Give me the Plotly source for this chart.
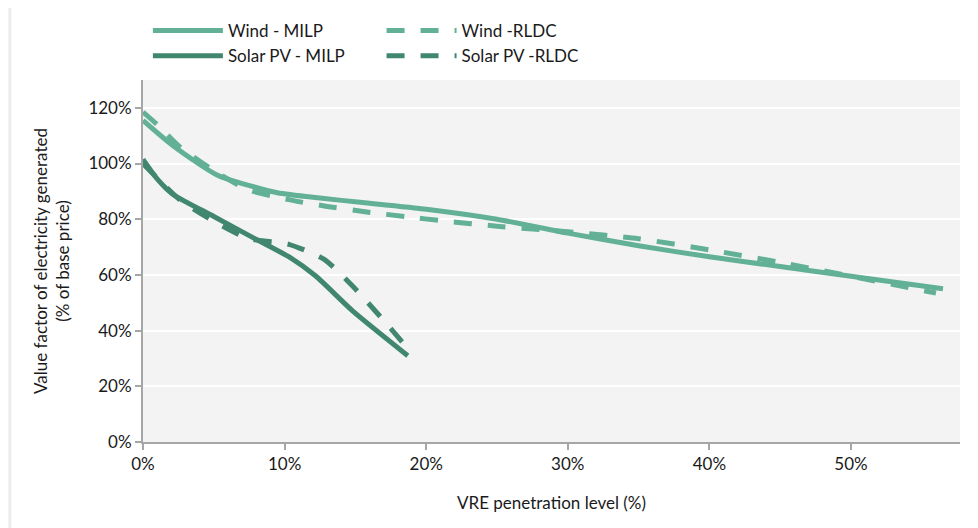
import plotly.graph_objects as go

wind_milp_x = [0, 2.1, 5.3, 9.5, 12.5, 15.5, 20, 25, 30, 35, 40, 45, 50, 56.5]
wind_milp_y = [115.5, 106.5, 95.7, 89.5, 87.6, 86, 83.6, 80, 75, 70.5, 66.5, 63, 59.5, 55]

wind_rldc_x = [0, 1, 2.6, 5, 7.3, 10.1, 13, 15.8, 18.6, 21.2, 25, 30, 35, 40, 45, 50, 56]
wind_rldc_y = [118.5, 114, 106, 97.5, 90.8, 87.2, 84.6, 82.6, 80.9, 79.4, 77.5, 75.5, 73, 69, 64.5, 59.5, 53.5]

solar_milp_x = [0, 1, 2.1, 5, 7.8, 10.4, 12.2, 14.8, 18.7]
solar_milp_y = [101.5, 94.5, 89, 81, 73.3, 66.2, 59.6, 47.1, 31]

solar_rldc_x = [0, 2.6, 5, 7.4, 10.3, 12.8, 14.8, 16.8, 18.8]
solar_rldc_y = [100, 87, 79.3, 73.1, 71, 65.6, 56, 44.8, 33]

x_ticks = [0, 10, 20, 30, 40, 50]
x_labels = ["0%", "10%", "20%", "30%", "40%", "50%"]
y_ticks = [0, 20, 40, 60, 80, 100, 120]
y_labels = ["0%", "20%", "40%", "60%", "80%", "100%", "120%"]

WIND = "#62b096"
SOLAR = "#418770"
DASH = "18px,16px"
SM = 0.6

fig = go.Figure()
fig.add_trace(go.Scatter(x=wind_milp_x, y=wind_milp_y, mode="lines", name="Wind - MILP", legend="legend",
                         line=dict(color=WIND, width=5, shape="spline", smoothing=SM)))
fig.add_trace(go.Scatter(x=solar_milp_x, y=solar_milp_y, mode="lines", name="Solar PV - MILP", legend="legend",
                         line=dict(color=SOLAR, width=5, shape="spline", smoothing=SM)))
fig.add_trace(go.Scatter(x=wind_rldc_x, y=wind_rldc_y, mode="lines", name="Wind -RLDC", legend="legend2",
                         line=dict(color=WIND, width=5, dash=DASH, shape="spline", smoothing=SM)))
fig.add_trace(go.Scatter(x=solar_rldc_x, y=solar_rldc_y, mode="lines", name="Solar PV -RLDC", legend="legend2",
                         line=dict(color=SOLAR, width=5, dash=DASH, shape="spline", smoothing=SM)))

legend_common = dict(orientation="v", yanchor="top", y=1.185, itemwidth=70,
                     font=dict(size=17), tracegroupgap=0, bgcolor="rgba(0,0,0,0)",
                     traceorder="normal")

fig.update_layout(
    width=978, height=528,
    margin=dict(l=135, r=26, t=72, b=94, autoexpand=False),
    paper_bgcolor="white",
    plot_bgcolor="#f3f3f3",
    font=dict(family="Lato, 'Open Sans', sans-serif", size=17, color="#1a1a1a"),
    legend=dict(x=0.006, xanchor="left", **legend_common),
    legend2=dict(x=0.292, xanchor="left", **legend_common),
    xaxis=dict(range=[0, 57.7], tickvals=x_ticks, ticktext=x_labels, showgrid=False,
               zeroline=False, showline=True, linecolor="#a6a6a6", linewidth=2,
               ticks="outside", ticklen=6, tickcolor="#a6a6a6", tickwidth=2,
               title=dict(text="VRE penetration level (%)", standoff=24, font=dict(size=17))),
    yaxis=dict(range=[0, 130], tickvals=y_ticks, ticktext=y_labels, showgrid=True,
               gridcolor="white", gridwidth=2, zeroline=False, showline=True,
               linecolor="#a6a6a6", linewidth=2, ticks="outside", ticklen=6,
               tickcolor="#a6a6a6", tickwidth=2,
               title=dict(text="Value factor of electricity generated<br>(% of base price)",
                          standoff=14, font=dict(size=17))),
)

fig.add_shape(type="line", xref="paper", yref="paper", x0=-0.163, x1=-0.163, y0=-0.27, y1=1.22,
              line=dict(color="#ececec", width=3))

fig.write_html("out.html")
